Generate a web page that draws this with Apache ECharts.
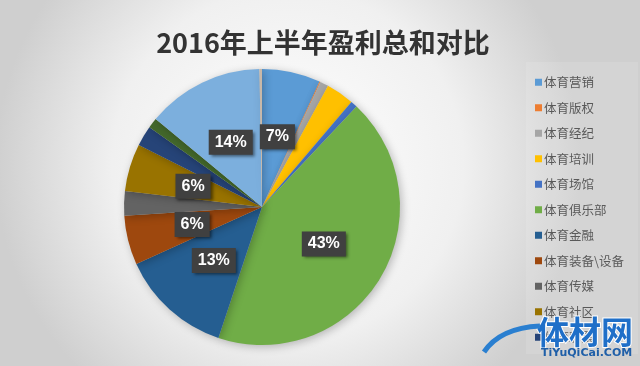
<!DOCTYPE html>
<html>
<head>
<meta charset="utf-8">
<script src="https://cdn.jsdelivr.net/npm/echarts@6/dist/echarts.min.js"></script>
<style>
html,body{margin:0;padding:0;}
#c{width:640px;height:366px;}
</style>
</head>
<body>
<div id="c"></div>
<script>
var titleText = '2016年上半年盈利总和对比';
var categories = ['体育营销','体育版权','体育经纪','体育培训','体育场馆','体育俱乐部','体育金融','体育装备\\设备','体育传媒','体育社区','体育彩票','体育用品','体育旅游','体育其他'];
var values = [6.9, 0.1, 1.0, 3.3, 0.8, 43.4, 13.2, 5.8, 2.9, 5.6, 2.4, 1.2, 13.8, 0.3];
var legendNames = categories.slice(0, 11);
var colors = ['#5B9BD5','#ED7D31','#A5A5A5','#FFC000','#4472C4','#70AD47','#255E91','#9E480E','#636363','#997300','#264478','#43682B','#7CAFDD','#C9B8A8'];

var total = values.reduce(function(a,b){return a+b;},0);
var chart = echarts.init(document.getElementById('c'), null, {renderer:'canvas'});
var data = categories.map(function(n,i){
  return {name:n, value:values[i], label:{show: values[i]/total*100 >= 5}};
});

chart.setOption({
  backgroundColor: {
    type:'radial', x:0.45, y:0.45, r:0.8,
    colorStops:[{offset:0,color:'#ffffff'},{offset:0.6,color:'#f0f0f0'},{offset:1,color:'#cfcfcf'}]
  },
  color: colors,
  animation:false,
  title: {
    text: titleText, left: 318, top: 24, textAlign:'center',
    textStyle:{fontSize:27, fontWeight:'bold', color:'#333333', fontFamily:'"Noto Sans CJK SC", sans-serif'}
  },
  legend: {
    orient:'vertical', left:530, top:71,
    data: legendNames,
    itemWidth:7, itemHeight:7, itemGap:13, icon:'rect',
    textStyle:{fontSize:12.5, color:'#595959', fontFamily:'"Noto Sans CJK SC", sans-serif', padding:[0,0,0,-3]}
  },
  graphic: [
    {type:'rect', left:526, top:62, shape:{width:112, height:292}, style:{fill:'rgba(255,255,255,0.12)'}, z:-1},
    {type:'text', left:536, top:315, style:{text:'体材网', fill:'#1f6fc8', font:'bold 32px "Noto Sans CJK SC", sans-serif', stroke:'#ffffff', lineWidth:2}, z:100},
    {type:'text', left:541, top:348, style:{text:'TiYuQiCai.COM', fill:'#1f5fa8', font:'bold 11px "DejaVu Sans", sans-serif'}, z:100},
    {type:'bezierCurve', shape:{x1:484, y1:352, x2:540, y2:326, cpx1:500, cpy1:328}, style:{stroke:'#2a7fd0', lineWidth:5, fill:null}, z:100}
  ],
  series: [{
    type:'pie',
    center:[262,207],
    radius:[0,138],
    startAngle:90,
    clockwise:true,
    data:data,
    itemStyle:{borderWidth:0, shadowBlur:8, shadowColor:'rgba(0,0,0,0.25)', shadowOffsetX:2, shadowOffsetY:2},
    labelLine:{show:false},
    emphasis:{disabled:true},
    label:{
      position:'inside',
      formatter:function(p){ return Math.round(p.percent)+'%'; },
      color:'#ffffff', fontWeight:'bold', fontSize:16,
      fontFamily:'"Liberation Sans", Arial, sans-serif',
      backgroundColor:'#404040', padding:[5,6,4,6],
      shadowBlur:3, shadowColor:'rgba(0,0,0,0.5)', shadowOffsetX:2, shadowOffsetY:2
    }
  }]
});
</script>
</body>
</html>
